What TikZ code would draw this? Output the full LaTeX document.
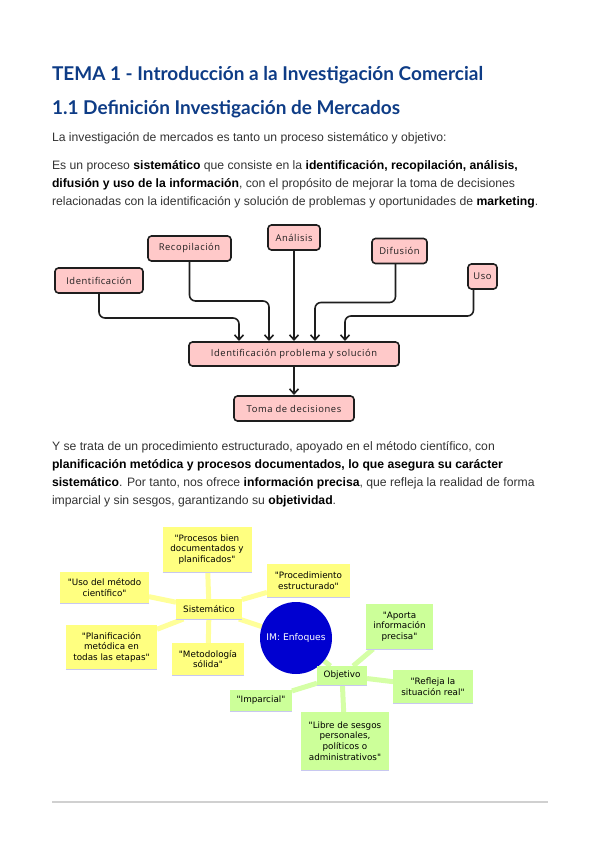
\documentclass[tikz,border=0pt]{standalone}
\usepackage{fontspec}
\setmainfont{Liberation Sans}
\newfontfamily\headfont{Lato}
\newfontfamily\mmfont{DejaVu Sans}
\newfontfamily\handfont[LetterSpace=6]{Open Sans}
\usetikzlibrary{arrows.meta,backgrounds}
\definecolor{headblue}{HTML}{0E3C86}
\definecolor{bodygray}{HTML}{333333}
\definecolor{flowpink}{HTML}{FFC9C9}
\definecolor{flowdark}{HTML}{1E1E1E}
\definecolor{yfill}{HTML}{FFFF80}
\definecolor{ylinec}{HTML}{FFFF99}
\definecolor{gfill}{HTML}{CCFF99}
\definecolor{glinec}{HTML}{D5FFA6}
\definecolor{lav}{HTML}{C8C8F0}
\definecolor{circblue}{HTML}{0000D0}
\definecolor{rulegray}{HTML}{D0D0D0}
\begin{document}
\begin{tikzpicture}[x=1pt,y=-1pt,
  every node/.style={inner sep=0pt, outer sep=0pt},
  txt/.style={anchor=base west, text=bodygray, font=\fontsize{12.2}{14}\selectfont},
  head/.style={anchor=base west, text=headblue, font=\headfont\bfseries\fontsize{19}{22}\selectfont},
  flow/.style={draw=flowdark, line width=1.6pt, rounded corners=3.5pt, fill=flowpink,
     font=\handfont\fontsize{9.4}{10}\selectfont, text=flowdark, minimum height=25pt},
  arr/.style={draw=flowdark, line width=1.6pt, rounded corners=6pt, shorten >=1pt,
     -{Straight Barb[length=5pt,width=9pt,line width=1.6pt]}},
  mm/.style={font=\mmfont\fontsize{8.8}{10.6}\selectfont, align=center, text=black},
  ybox/.style={mm, fill=yfill},
  gbox/.style={mm, fill=gfill},
  yline/.style={draw=ylinec, line width=5pt},
  gline/.style={draw=glinec, line width=5pt},
  lavline/.style={draw=lav, line width=1pt}
]
\useasboundingbox (0,0) rectangle (600,848);

% Headings
\node[head] (t1) at (52,81) {TEMA 1 - Introducción a la Investigación Comercial};
\node[head] (t2) at (52,114) {1.1 Definición Investigación de Mercados};

% Paragraph 1
\node[txt] (l0) at (52,141) {La investigación de mercados es tanto un proceso sistemático y objetivo:};
\node[txt] (l1) at (52,169) {Es un proceso \textbf{\color{black}sistemático} que consiste en la \textbf{\color{black}identificación, recopilación, análisis,}};
\node[txt] (l2) at (52,187) {\textbf{\color{black}difusión y uso de la información}, con el propósito de mejorar la toma de decisiones};
\node[txt] (l3) at (52,205) {relacionadas con la identificación y solución de problemas y oportunidades de \textbf{\color{black}marketing}.};

% Flowchart
\node[flow, minimum width=88pt] (idf) at (99,280.5) {Identificación};
\node[flow, minimum width=83pt] (rec) at (189.5,248.5) {Recopilación};
\node[flow, minimum width=52pt] (ana) at (294,237.5) {Análisis};
\node[flow, minimum width=55pt] (dif) at (399.5,251) {Difusión};
\node[flow, minimum width=29pt] (uso) at (482.5,276.5) {Uso};
\node[flow, minimum width=210pt, minimum height=24pt] (ips) at (294,354) {Identificación problema y solución};
\node[flow, minimum width=120pt] (toma) at (294,408.5) {Toma de decisiones};

\draw[arr] (idf.south) -- ++(0,25) -| ([xshift=-55pt]ips.north);
\draw[arr] (rec.south) -- ++(0,40) -| ([xshift=-25pt]ips.north);
\draw[arr] (ana.south) -- (ips.north);
\draw[arr] ([xshift=-4pt]dif.south) -- ++(0,39) -| ([xshift=21pt]ips.north);
\draw[arr] ([xshift=-9pt]uso.south) -- ++(0,27) -| ([xshift=51pt]ips.north);
\draw[arr] (ips.south) -- (toma.north);

% Paragraph 2
\node[txt] (m1) at (52,450) {Y se trata de un procedimiento estructurado, apoyado en el método científico, con};
\node[txt] (m2) at (52,468) {\textbf{\color{black}planificación metódica y procesos documentados, lo que asegura su carácter}};
\node[txt] (m3) at (52,486) {\textbf{\color{black}sistemático}. Por tanto, nos ofrece \textbf{\color{black}información precisa}, que refleja la realidad de forma};
\node[txt] (m4) at (52,504) {imparcial y sin sesgos, garantizando su \textbf{\color{black}objetividad}.};

% Mind map
\node[circle, fill=circblue, minimum size=72pt, text=white, font=\mmfont\fontsize{9.2}{10}\selectfont] (im) at (296,638) {IM: Enfoques};

\node[ybox, minimum width=66pt, minimum height=20pt] (sis) at (209,609) {Sistemático};
\node[ybox, minimum width=89pt, minimum height=45pt] (pb) at (207,549.5) {"Procesos bien\\documentados y\\planificados"};
\node[ybox, minimum width=89pt, minimum height=31pt] (um) at (104.5,587.5) {"Uso del método\\científico"};
\node[ybox, minimum width=91pt, minimum height=44pt] (pm) at (111.5,647) {"Planificación\\metódica en\\todas las etapas"};
\node[ybox, minimum width=72pt, minimum height=32pt] (ms) at (208,659) {"Metodología\\sólida"};
\node[ybox, minimum width=83pt, minimum height=33pt] (pe) at (308.5,580.5) {"Procedimiento\\estructurado"};

\node[gbox, minimum width=50pt, minimum height=19pt] (obj) at (342,675.5) {Objetivo};
\node[gbox, minimum width=67pt, minimum height=45pt] (ap) at (399.5,626.5) {"Aporta\\información\\precisa"};
\node[gbox, minimum width=80pt, minimum height=33pt] (rs) at (433,686.5) {"Refleja la\\situación real"};
\node[gbox, minimum width=62pt, minimum height=21pt] (imp) at (261,700.5) {"Imparcial"};
\node[gbox, minimum width=88pt, minimum height=58pt] (lib) at (345,741) {"Libre de sesgos\\personales,\\políticos o\\administrativos"};

\foreach \n in {sis,pb,um,pm,ms,pe,obj,ap,rs,imp,lib}{
  \draw[lavline] (\n.south west) -- (\n.south east);
}

\begin{scope}[on background layer]
  \draw[yline] (im) -- (sis);
  \foreach \n in {pb,um,pm,ms,pe}{ \draw[yline] (sis) -- (\n); }
  \draw[gline] (im) -- (obj);
  \foreach \n in {ap,rs,imp,lib}{ \draw[gline] (obj) -- (\n); }
\end{scope}

% bottom rule
\coordinate (r1) at (52,802);
\coordinate (r2) at (548,802);
\draw[rulegray, line width=1.6pt] (r1) -- (r2);
\end{tikzpicture}
\end{document}
